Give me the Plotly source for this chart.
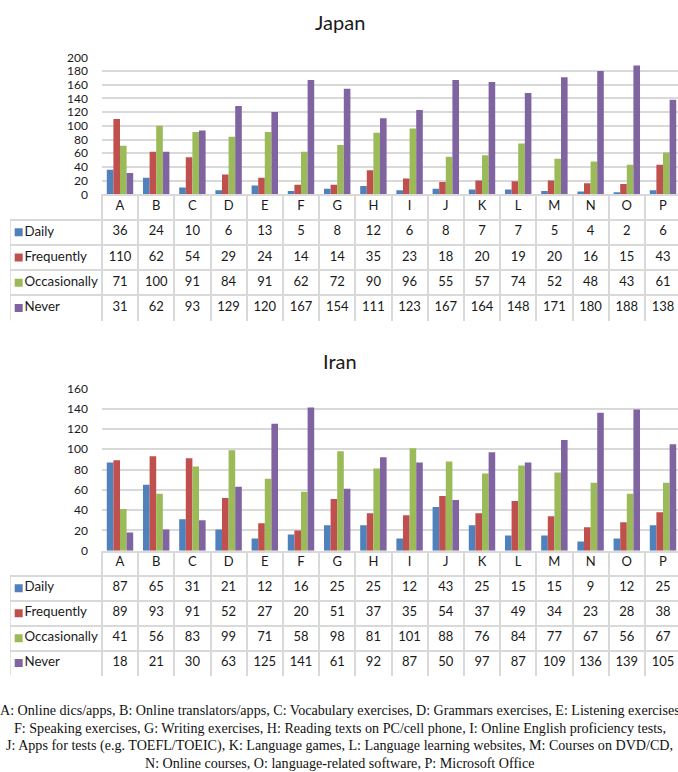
import plotly.graph_objects as go

categories = list("ABCDEFGHIJKLMNOP")
series_names = ["Daily", "Frequently", "Occasionally", "Never"]
series_colors = ["#4F81BD", "#C0504D", "#9BBB59", "#8064A2"]

japan_daily = [36, 24, 10, 6, 13, 5, 8, 12, 6, 8, 7, 7, 5, 4, 2, 6]
japan_frequently = [110, 62, 54, 29, 24, 14, 14, 35, 23, 18, 20, 19, 20, 16, 15, 43]
japan_occasionally = [71, 100, 91, 84, 91, 62, 72, 90, 96, 55, 57, 74, 52, 48, 43, 61]
japan_never = [31, 62, 93, 129, 120, 167, 154, 111, 123, 167, 164, 148, 171, 180, 188, 138]

iran_daily = [87, 65, 31, 21, 12, 16, 25, 25, 12, 43, 25, 15, 15, 9, 12, 25]
iran_frequently = [89, 93, 91, 52, 27, 20, 51, 37, 35, 54, 37, 49, 34, 23, 28, 38]
iran_occasionally = [41, 56, 83, 99, 71, 58, 98, 81, 101, 88, 76, 84, 77, 67, 56, 67]
iran_never = [18, 21, 30, 63, 125, 141, 61, 92, 87, 50, 97, 87, 109, 136, 139, 105]

japan_ticks = list(range(0, 201, 20))
iran_ticks = list(range(0, 161, 20))

caption_lines = [
    "A: Online dics/apps, B: Online translators/apps, C: Vocabulary exercises, D: Grammars exercises, E: Listening exercises,",
    "F: Speaking exercises, G: Writing exercises, H: Reading texts on PC/cell phone, I: Online English proficiency tests,",
    "J: Apps for tests (e.g. TOEFL/TOEIC), K: Language games, L: Language learning websites, M: Courses on DVD/CD,",
    "N: Online courses, O: language-related software, P: Microsoft Office",
]

W, H = 678, 772
FONT = "Lato"
TXT = "#1a1a1a"
GRID = "#D9D9D9"


def fx(p):
    return p / W


def fy(p):
    return 1 - p / H


unit = 36.2
first_center = 120.0
x_right = (W - first_center) / unit
bar_left_px = first_center - 0.5 * unit
tab_left_px = 10.0
tab_left_x = (tab_left_px - first_center) / unit

fig = go.Figure()

panels = [
    dict(title="Japan", data=[japan_daily, japan_frequently, japan_occasionally, japan_never],
         ticks=japan_ticks, top=57.3, base=194.3, bottom=320.7, title_y=22, ax=1),
    dict(title="Iran", data=[iran_daily, iran_frequently, iran_occasionally, iran_never],
         ticks=iran_ticks, top=388.3, base=550.7, bottom=675.6, title_y=361, ax=2),
]

idx = list(range(len(categories)))
annotations = []
shapes = []

for p in panels:
    bx = "x" if p["ax"] == 1 else "x3"
    by = "y" if p["ax"] == 1 else "y3"
    tx = "x2" if p["ax"] == 1 else "x4"
    ty = "y2" if p["ax"] == 1 else "y4"
    bxl = "xaxis" if p["ax"] == 1 else "xaxis3"
    byl = "yaxis" if p["ax"] == 1 else "yaxis3"
    txl = "xaxis2" if p["ax"] == 1 else "xaxis4"
    tyl = "yaxis2" if p["ax"] == 1 else "yaxis4"

    for name, vals, col in zip(series_names, p["data"], series_colors):
        fig.add_trace(go.Bar(x=idx, y=vals, name=name, marker=dict(color=col, line=dict(width=0)),
                             xaxis=bx, yaxis=by, showlegend=False, hoverinfo="skip"))

    # table header (category letters)
    fig.add_trace(go.Scatter(x=idx, y=[0.5] * len(idx), text=categories, mode="text",
                             textfont=dict(family=FONT, size=13, color=TXT),
                             xaxis=tx, yaxis=ty, showlegend=False, hoverinfo="skip"))
    # table values
    for r, (name, vals, col) in enumerate(zip(series_names, p["data"], series_colors), start=1):
        fig.add_trace(go.Scatter(x=idx, y=[r + 0.5] * len(idx), text=[str(v) for v in vals], mode="text",
                                 textfont=dict(family=FONT, size=13, color=TXT),
                                 xaxis=tx, yaxis=ty, showlegend=False, hoverinfo="skip"))
        fig.add_trace(go.Scatter(x=[tab_left_x + 0.24], y=[r + 0.5], mode="markers",
                                 marker=dict(symbol="square", size=8, color=col),
                                 xaxis=tx, yaxis=ty, showlegend=False, hoverinfo="skip"))
        fig.add_trace(go.Scatter(x=[tab_left_x + 0.40], y=[r + 0.5], text=[name], mode="text",
                                 textposition="middle right",
                                 textfont=dict(family=FONT, size=13.3, color=TXT),
                                 xaxis=tx, yaxis=ty, showlegend=False, hoverinfo="skip"))

    # left border of legend column
    shapes.append(dict(type="line", xref=tx, yref=ty, x0=tab_left_x, x1=tab_left_x, y0=1, y1=5,
                       line=dict(color=GRID, width=1.5), layer="above"))

    fig.update_layout(**{
        bxl: dict(domain=[fx(bar_left_px), 1], range=[-0.5, x_right], showticklabels=False,
                  showgrid=False, zeroline=False, showline=True, linecolor=GRID, linewidth=1.5,
                  ticks="", automargin=False),
        byl: dict(domain=[fy(p["base"]), fy(p["top"])], range=[0, p["ticks"][-1]], tickvals=p["ticks"],
                  showgrid=True, gridcolor=GRID, gridwidth=1.5, zeroline=False, showline=False,
                  tickfont=dict(family=FONT, size=12, color=TXT), ticks="", ticklabelstandoff=13,
                  automargin=False),
        txl: dict(domain=[fx(tab_left_px), 1], range=[tab_left_x, x_right],
                  tickvals=[i - 0.5 for i in range(len(categories) + 1)], showticklabels=False,
                  showgrid=True, gridcolor=GRID, gridwidth=1.5, zeroline=False, showline=False,
                  ticks="", automargin=False),
        tyl: dict(domain=[fy(p["bottom"]), fy(p["base"])], range=[5, 0],
                  tickvals=[1, 2, 3, 4, 5], showticklabels=False, showgrid=True, gridcolor=GRID,
                  gridwidth=1.5, zeroline=False, showline=False, ticks="", automargin=False),
    })

    annotations.append(dict(text=p["title"], xref="paper", yref="paper", x=fx(340.5), y=fy(p["title_y"]),
                            showarrow=False, xanchor="center", yanchor="middle",
                            font=dict(family=FONT, size=20, color=TXT)))

fig.layout.xaxis.anchor = "y"
fig.layout.yaxis.anchor = "x"
fig.layout.xaxis2.anchor = "y2"
fig.layout.yaxis2.anchor = "x2"
fig.layout.xaxis3.anchor = "y3"
fig.layout.yaxis3.anchor = "x3"
fig.layout.xaxis4.anchor = "y4"
fig.layout.yaxis4.anchor = "x4"

cap_y = [710, 728, 745.5, 762.5]
cap_x = [341, 340.5, 339.5, 340]
for line, yy, xx in zip(caption_lines, cap_y, cap_x):
    annotations.append(dict(text=line, xref="paper", yref="paper", x=fx(xx), y=fy(yy),
                            showarrow=False, xanchor="center", yanchor="middle",
                            font=dict(family="Liberation Serif", size=14.1, color="#111")))

fig.update_layout(width=W, height=H, margin=dict(l=0, r=0, t=0, b=0, autoexpand=False),
                  paper_bgcolor="white", plot_bgcolor="white",
                  barmode="group", bargap=0.27, bargroupgap=0,
                  annotations=annotations, shapes=shapes, showlegend=False)

css = "margin:0;padding:0;overflow:hidden;height:772px;width:678px;"
fig.write_html("out.html", config={"displayModeBar": False},
               post_script="document.documentElement.style.cssText='" + css + "';"
                           "document.body.style.cssText='" + css + "';")
